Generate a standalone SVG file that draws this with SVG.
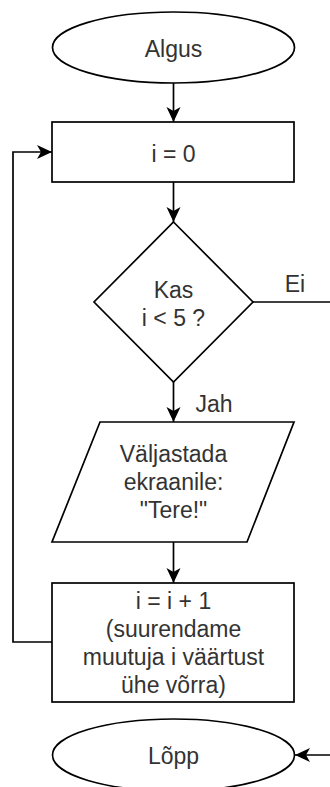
<svg xmlns="http://www.w3.org/2000/svg" width="330" height="787" viewBox="0 0 330 787">
<style>
.s{fill:#ffffff;stroke:#000000;stroke-width:1.7}
.c{fill:none;stroke:#000000;stroke-width:1.7}
text{font-family:"Liberation Sans",Arial,sans-serif;font-size:23px;fill:#333333;text-anchor:middle}
</style>
<defs>
<marker id="arr" markerUnits="userSpaceOnUse" markerWidth="16" markerHeight="16" refX="15" refY="7" orient="auto" viewBox="0 0 16 16">
<path d="M0,0 L15,7 L0,14 L4,7 Z" fill="#000000"/>
</marker>
</defs>
<g id="connectors">
<line class="c" x1="173.5" y1="83" x2="173.5" y2="122" marker-end="url(#arr)"/>
<line class="c" x1="173.5" y1="182" x2="173.5" y2="222" marker-end="url(#arr)"/>
<line class="c" x1="253" y1="302" x2="330" y2="302"/>
<text x="295" y="292">Ei</text>
<line class="c" x1="173.5" y1="382" x2="173.5" y2="422" marker-end="url(#arr)"/>
<text x="214" y="412">Jah</text>
<line class="c" x1="173.5" y1="542" x2="173.5" y2="583" marker-end="url(#arr)"/>
<polyline class="c" points="52,642 13,642 13,152 52,152" marker-end="url(#arr)"/>
<line class="c" x1="330" y1="755" x2="295" y2="755" marker-end="url(#arr)"/>
</g>
<g id="algus">
<ellipse class="s" cx="173.5" cy="47.5" rx="121" ry="35.5"/>
<text x="173.5" y="56.5">Algus</text>
</g>
<g id="init">
<rect class="s" x="52" y="122" width="242" height="60"/>
<text x="173.5" y="161.5">i = 0</text>
</g>
<g id="decision">
<polygon class="s" points="173.5,222 253,302 173.5,382 94,302"/>
<text x="173.5" y="298">Kas</text>
<text x="173.5" y="326">i &lt; 5 ?</text>
</g>
<g id="output">
<polygon class="s" points="100,422 294,422 247,542 52,542"/>
<text x="173.5" y="462">Väljastada</text>
<text x="173.5" y="490">ekraanile:</text>
<text x="173.5" y="518">"Tere!"</text>
</g>
<g id="increment">
<rect class="s" x="52" y="583" width="242" height="119"/>
<text x="173.5" y="609">i = i + 1</text>
<text x="173.5" y="637">(suurendame</text>
<text x="173.5" y="665">muutuja i väärtust</text>
<text x="173.5" y="693">ühe võrra)</text>
</g>
<g id="lopp">
<ellipse class="s" cx="173.5" cy="755" rx="121" ry="36"/>
<text x="173.5" y="764">Lõpp</text>
</g>
</svg>
